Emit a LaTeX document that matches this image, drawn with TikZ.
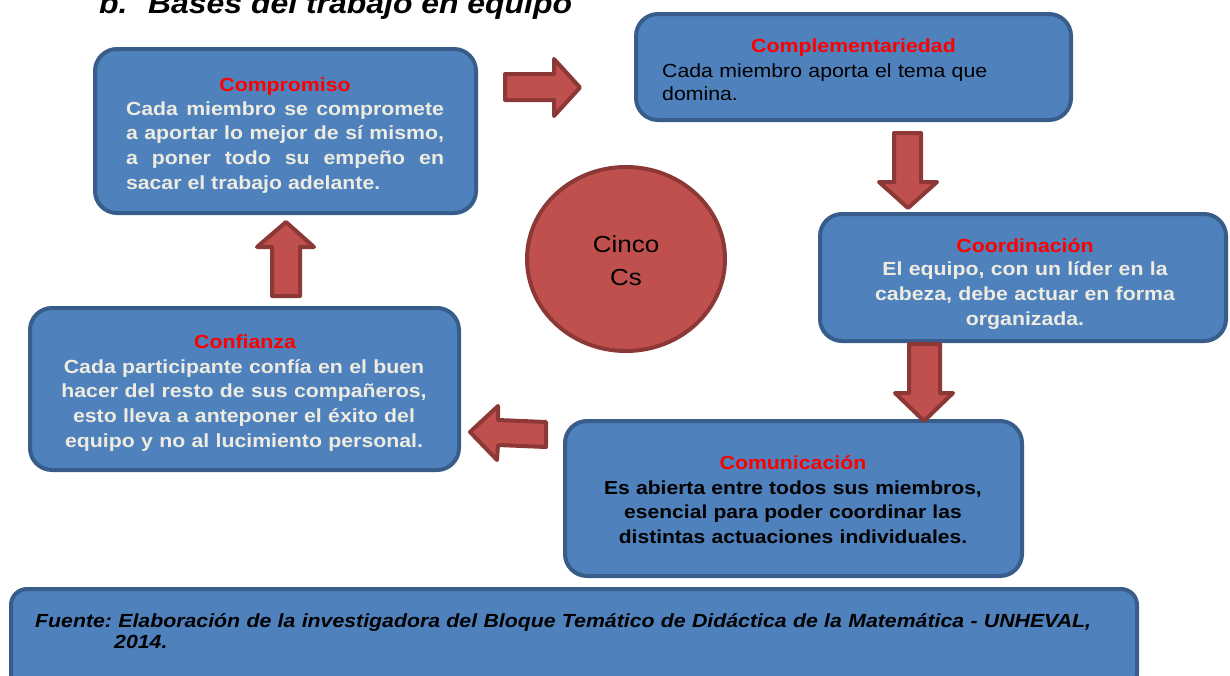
\documentclass[tikz,border=0pt]{standalone}
\usepackage{fontspec}
\setmainfont[FakeStretch=1.12]{Liberation Sans}
\usetikzlibrary{shapes.geometric}
\definecolor{boxfill}{HTML}{4F81BD}
\definecolor{boxedge}{HTML}{385D8A}
\definecolor{arrfill}{HTML}{C0504D}
\definecolor{arredge}{HTML}{8C3836}
\definecolor{cream}{HTML}{EEECE1}
\definecolor{headred}{HTML}{FF0000}
\begin{document}
\begin{tikzpicture}[x=1pt,y=-1pt,
  box/.style={draw=boxedge, fill=boxfill, line width=4pt, rounded corners=22pt, inner sep=0pt},
  blockarrow/.style={draw=arredge, fill=arrfill, line width=4pt, line join=round},
  headtxt/.style={inner sep=0pt, anchor=base, text=headred, font=\fontsize{19}{23}\selectfont\bfseries},
  bodytxt/.style={inner sep=0pt, anchor=base, font=\fontsize{19}{24.7}\selectfont\bfseries},
]
\useasboundingbox (0,0) rectangle (1230,675);

% title
\node[inner sep=0pt, anchor=base west, font=\fontsize{28.5}{30}\selectfont\bfseries\itshape] (title) at (99,13) {\makebox[49pt][l]{b.}Bases del trabajo en equipo};

% boxes
\node[box, minimum width=381pt, minimum height=164pt] (compromiso) at (285.5,131) {};
\node[box, minimum width=435pt, minimum height=106pt] (complement) at (853.5,67) {};
\node[box, minimum width=406pt, minimum height=127pt] (coordina) at (1023,277.5) {};
\node[box, minimum width=457pt, minimum height=155pt] (comunica) at (793.5,498.5) {};
\node[box, minimum width=429pt, minimum height=162pt] (confianza) at (244.5,389) {};
\node[box, rounded corners=16pt, minimum width=1126pt, minimum height=101pt] (fuente) at (574,639.5) {};

% centre circle
\node[ellipse, draw=arredge, fill=arrfill, line width=4pt, minimum width=198pt, minimum height=184pt, inner sep=0pt] (cinco) at (626,259) {};
\node[inner sep=0pt, anchor=base, text width=150pt, align=center, font=\fontsize{23.2}{32.3}\selectfont] (cincotxt) at (626,252.7) {Cinco\\Cs};

% texts
\node[headtxt] (compromisoh) at (285,91) {Compromiso};
\node[bodytxt, text=cream, text width=318pt, align=justify] (compromisob) at (285,115)
  {\hyphenpenalty=10000 \tolerance=9999 Cada miembro se compromete\linebreak a aportar lo mejor de sí mismo,\linebreak a poner todo su empeño en\linebreak sacar el trabajo adelante.};

\node[headtxt] (complementh) at (853.5,52) {Complementariedad};
\node[inner sep=0pt, anchor=base west, text width=400pt, align=left, font=\fontsize{19}{23}\selectfont] (complementb) at (662,77)
  {Cada miembro aporta el tema que\\domina.};

\node[headtxt] (coordinah) at (1025,252) {Coordinación};
\node[bodytxt, text=cream, text width=390pt, align=center, font=\fontsize{19}{25}\selectfont\bfseries] (coordinab) at (1025,275)
  {El equipo, con un líder en la\\cabeza, debe actuar en forma\\organizada.};

\node[headtxt] (comunicah) at (793,469) {Comunicación};
\node[bodytxt, text=black, text width=440pt, align=center, font=\fontsize{18.8}{24.5}\selectfont\bfseries] (comunicab) at (793,494)
  {Es abierta entre todos sus miembros,\\esencial para poder coordinar las\\distintas actuaciones individuales.};

\node[headtxt] (confianzah) at (245,348) {Confianza};
\node[bodytxt, text=cream, text width=410pt, align=center] (confianzab) at (244,373)
  {Cada participante confía en el buen\\hacer del resto de sus compañeros,\\esto lleva a anteponer el éxito del\\equipo y no al lucimiento personal.};

\node[inner sep=0pt, anchor=base west, text width=1100pt, align=left, font=\fontsize{19}{21.5}\selectfont\bfseries\itshape] (fuentetxt) at (35,627)
  {\frenchspacing Fuente: Elaboración de la investigadora del Bloque Temático de Didáctica de la Matemática - UNHEVAL,\\\hspace*{79pt}2014.};

% block arrows
\draw[blockarrow] (505,74) -- (554,74) -- (554,59) -- (580,87.5) -- (554,116) -- (554,100) -- (505,100) -- cycle;
\draw[blockarrow] (894,133) -- (921,133) -- (921,182) -- (937,182) -- (908,208) -- (879,182) -- (894,182) -- cycle;
\draw[blockarrow] (909,344) -- (940,344) -- (940,393) -- (953,393) -- (924,421) -- (895,393) -- (909,393) -- cycle;
\draw[blockarrow] (470,432) -- (498,406) -- (498,420) -- (546,422) -- (546,447) -- (498,445) -- (497,460) -- cycle;
\draw[blockarrow] (286,222) -- (314,247) -- (300,247) -- (300,296) -- (272,296) -- (272,247) -- (257,247) -- cycle;
\end{tikzpicture}
\end{document}
